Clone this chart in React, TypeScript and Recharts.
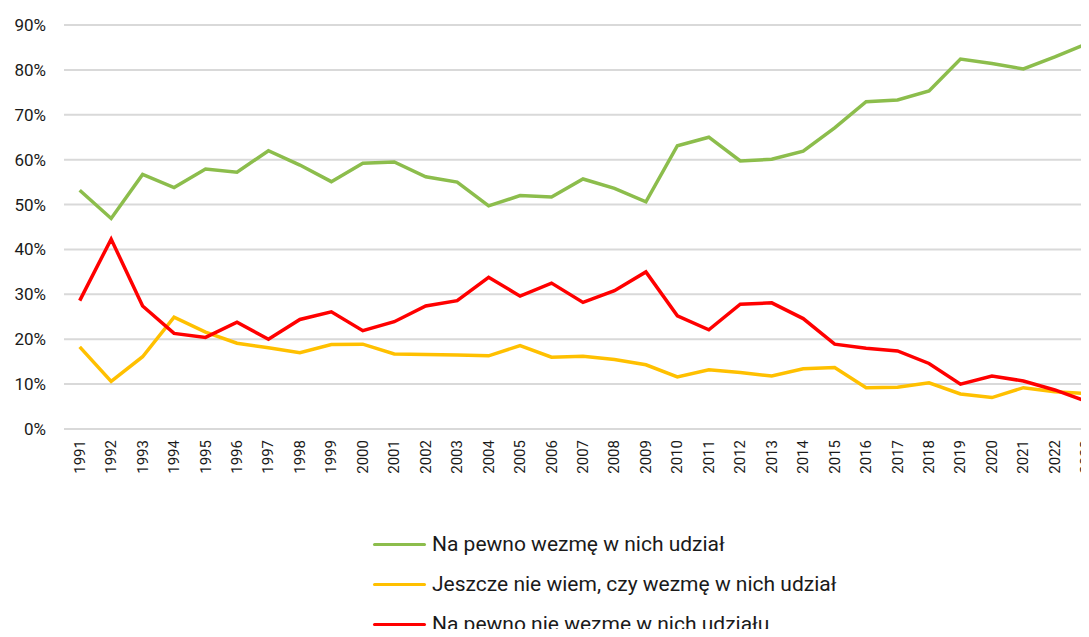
import { CartesianGrid, Legend, Line, LineChart, XAxis, YAxis } from "recharts";

const years = [
  "1991", "1992", "1993", "1994", "1995", "1996", "1997", "1998", "1999", "2000", "2001",
  "2002", "2003", "2004", "2005", "2006", "2007", "2008", "2009", "2010", "2011", "2012",
  "2013", "2014", "2015", "2016", "2017", "2018", "2019", "2020", "2021", "2022", "2023",
];

// Na pewno wezmę w nich udział
const definitelyYes = [
  53.2, 46.9, 56.7, 53.8, 57.9, 57.2, 62.0, 58.8, 55.1, 59.2, 59.5,
  56.2, 55.0, 49.7, 52.0, 51.7, 55.7, 53.6, 50.6, 63.1, 65.0, 59.7,
  60.1, 61.9, 67.1, 72.9, 73.3, 75.3, 82.4, 81.4, 80.2, 82.9, 85.8,
];

// Jeszcze nie wiem, czy wezmę w nich udział
const notSureYet = [
  18.3, 10.6, 16.1, 24.9, 21.6, 19.1, 18.1, 17.0, 18.8, 18.9, 16.7,
  16.6, 16.5, 16.3, 18.6, 16.0, 16.2, 15.5, 14.3, 11.6, 13.2, 12.6,
  11.8, 13.4, 13.7, 9.2, 9.3, 10.3, 7.8, 7.0, 9.2, 8.3, 7.9,
];

// Na pewno nie wezmę w nich udziału
const definitelyNo = [
  28.6, 42.3, 27.4, 21.3, 20.4, 23.8, 20.0, 24.4, 26.1, 21.9, 23.9,
  27.4, 28.6, 33.8, 29.6, 32.5, 28.2, 30.8, 35.0, 25.2, 22.1, 27.8,
  28.1, 24.6, 18.9, 18.0, 17.4, 14.6, 10.0, 11.8, 10.7, 8.7, 6.2,
];

const seriesNames = [
  "Na pewno wezmę w nich udział",
  "Jeszcze nie wiem, czy wezmę w nich udział",
  "Na pewno nie wezmę w nich udziału",
];

const yTicks = [0, 10, 20, 30, 40, 50, 60, 70, 80, 90];

const data = years.map((year, i) => ({
  year,
  yes: definitelyYes[i],
  unsure: notSureYet[i],
  no: definitelyNo[i],
}));

const font = "Roboto, 'Noto Sans', sans-serif";

function YearTick({ x, y, payload }: any) {
  return (
    <text
      x={x}
      y={y}
      transform={`rotate(-90 ${x} ${y})`}
      textAnchor="end"
      dominantBaseline="central"
      fontSize={15}
      fontFamily={font}
      fill="#1a1a1a"
    >
      {payload.value}
    </text>
  );
}

function LegendBox({ payload }: any) {
  // keep the series order, not alphabetical
  const items = [...(payload || [])].sort(
    (a: any, b: any) => seriesNames.indexOf(a.value) - seriesNames.indexOf(b.value)
  );
  return (
    <div style={{ fontFamily: font }}>
      {items.map((entry: any) => (
        <div key={entry.value} style={{ display: "flex", alignItems: "center", height: 40 }}>
          <div style={{ width: 53, height: 3, background: entry.color, borderRadius: 2 }} />
          <span style={{ marginLeft: 6, fontSize: 21, color: "#1a1a1a", whiteSpace: "nowrap" }}>
            {entry.value}
          </span>
        </div>
      ))}
    </div>
  );
}

export default function App() {
  return (
    <div style={{ margin: -8, width: 1089, height: 637, overflow: "hidden", position: "relative", background: "#fff" }}>
      <LineChart width={1104} height={637} data={data} margin={{ top: 25, right: 2, bottom: 148, left: 0 }}>
        <CartesianGrid vertical={false} stroke="#d9d9d9" strokeWidth={2} />
        <XAxis
          dataKey="year"
          interval={0}
          axisLine={false}
          tickLine={false}
          tickSize={0}
          tickMargin={11}
          height={60}
          padding={{ left: 15.7, right: 15.7 }}
          tick={<YearTick />}
        />
        <YAxis
          domain={[0, 90]}
          ticks={yTicks}
          tickFormatter={(v) => `${v}%`}
          axisLine={false}
          tickLine={false}
          tickSize={0}
          tickMargin={18}
          width={64}
          tick={{ fontSize: 17, fontFamily: font, fill: "#1a1a1a" }}
        />
        <Legend
          layout="vertical"
          verticalAlign="middle"
          align="center"
          wrapperStyle={{ top: 524, left: 373, width: "auto" }}
          content={<LegendBox />}
        />
        <Line type="linear" dataKey="yes" name={seriesNames[0]} stroke="#8cbd4c" strokeWidth={3.5} dot={false} isAnimationActive={false} />
        <Line type="linear" dataKey="unsure" name={seriesNames[1]} stroke="#ffc000" strokeWidth={3.5} dot={false} isAnimationActive={false} />
        <Line type="linear" dataKey="no" name={seriesNames[2]} stroke="#ff0000" strokeWidth={3.5} dot={false} isAnimationActive={false} />
      </LineChart>
    </div>
  );
}
